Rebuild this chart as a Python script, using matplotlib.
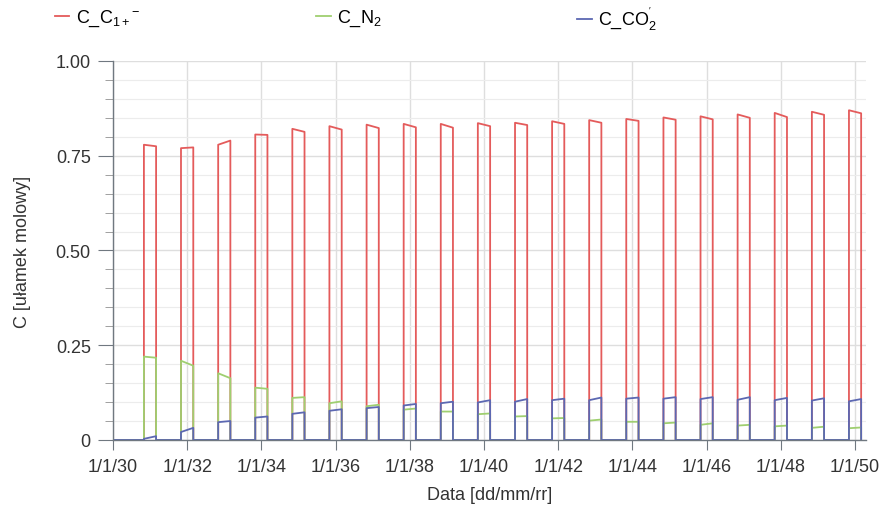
import datetime as dt
import matplotlib
matplotlib.use("Agg")
import matplotlib.pyplot as plt
import matplotlib.dates as mdates
from matplotlib.ticker import MultipleLocator, FuncFormatter
from matplotlib.lines import Line2D

plt.rcParams['font.family'] = ['Liberation Sans', 'DejaVu Sans']
plt.rcParams['mathtext.fontset'] = 'custom'
plt.rcParams['mathtext.rm'] = 'Liberation Sans'
plt.rcParams['mathtext.it'] = 'Liberation Sans'

# one withdrawal pulse per winter, centred on 1 January
years = list(range(1931, 1951))

c1_start = [0.779, 0.770, 0.779, 0.806, 0.821, 0.828, 0.832, 0.834, 0.834, 0.836,
            0.837, 0.841, 0.844, 0.847, 0.851, 0.854, 0.859, 0.863, 0.866, 0.870]
c1_end = [0.775, 0.772, 0.790, 0.805, 0.813, 0.819, 0.823, 0.825, 0.824, 0.828,
          0.831, 0.834, 0.837, 0.842, 0.845, 0.846, 0.850, 0.852, 0.858, 0.862]

n2_start = [0.220, 0.209, 0.176, 0.138, 0.111, 0.097, 0.089, 0.080, 0.075, 0.068,
            0.062, 0.057, 0.051, 0.048, 0.044, 0.040, 0.038, 0.036, 0.032, 0.031]
n2_end = [0.217, 0.196, 0.163, 0.135, 0.113, 0.102, 0.093, 0.083, 0.075, 0.070,
          0.063, 0.058, 0.054, 0.048, 0.046, 0.044, 0.040, 0.038, 0.035, 0.033]

co2_start = [0.003, 0.021, 0.047, 0.059, 0.069, 0.077, 0.084, 0.091, 0.097, 0.099,
             0.101, 0.105, 0.105, 0.109, 0.109, 0.108, 0.106, 0.105, 0.104, 0.102]
co2_end = [0.010, 0.032, 0.050, 0.062, 0.073, 0.081, 0.087, 0.095, 0.101, 0.105,
           0.108, 0.109, 0.112, 0.112, 0.113, 0.113, 0.113, 0.111, 0.110, 0.108]


def pulses(v0, v1):
    xs = [dt.datetime(1930, 1, 1)]
    ys = [0.0]
    for y, a, b in zip(years, v0, v1):
        t0 = dt.datetime(y - 1, 11, 1)
        t1 = dt.datetime(y, 3, 1)
        xs += [t0, t0, t1, t1]
        ys += [0.0, a, b, 0.0]
    return xs, ys


fig = plt.figure(figsize=(8.83, 5.06), dpi=100)
ax = fig.add_axes([0.128, 0.1285, 0.853, 0.749])

red = '#e45b5b'
green = '#9fcf70'
blue = '#5c68b2'

ax.plot(*pulses(c1_start, c1_end), color=red, lw=1.3)
ax.plot(*pulses(n2_start, n2_end), color=green, lw=1.3)
ax.plot(*pulses(co2_start, co2_end), color=blue, lw=1.3)

ax.set_xlim(dt.datetime(1930, 1, 1), dt.datetime(1950, 4, 20))
ax.set_ylim(0, 1)

ax.xaxis.set_major_locator(mdates.YearLocator(2))
ax.xaxis.set_major_formatter(FuncFormatter(
    lambda v, p: '1/1/%02d' % (mdates.num2date(v).year % 100)))
ax.yaxis.set_major_locator(MultipleLocator(0.25))
ax.yaxis.set_minor_locator(MultipleLocator(0.05))
ax.yaxis.set_major_formatter(FuncFormatter(
    lambda v, p: '0' if abs(v) < 1e-9 else '%.2f' % v))

ax.grid(True, which='major', axis='both', color='#dedede', lw=1.0)
ax.grid(True, which='minor', axis='y', color='#ececec', lw=0.8)
ax.set_axisbelow(True)

for s in ['top', 'right']:
    ax.spines[s].set_visible(False)
for s in ['left', 'bottom']:
    ax.spines[s].set_color('#707880')
    ax.spines[s].set_linewidth(1.0)

ax.tick_params(axis='both', which='major', colors='#707880', labelcolor='#333333',
               labelsize=13, direction='out')
ax.tick_params(axis='y', which='major', length=11, pad=5)
ax.tick_params(axis='y', which='minor', length=6, colors='#909090')
ax.tick_params(axis='x', which='major', length=7, pad=6)

ax.set_xlabel('Data [dd/mm/rr]', fontsize=13, color='#333333', labelpad=8)
ax.set_ylabel('C [ułamek molowy]', fontsize=13, color='#333333', labelpad=18)

labels = [r'C_C$_{1+}$$^{-}$', r'C_N$_2$', r"C_CO$_2^{'}$"]
colors = [red, green, blue]
xpos = [0.0623, 0.358, 0.654]
for lab, col, xp in zip(labels, colors, xpos):
    fig.legend(handles=[Line2D([], [], color=col, lw=1.3)], labels=[lab],
               loc='center left', bbox_to_anchor=(xp, 0.962), frameon=False,
               fontsize=13, handlelength=0.8, handletextpad=0.35,
               borderaxespad=0, borderpad=0)

fig.savefig('out.png', dpi=100)
